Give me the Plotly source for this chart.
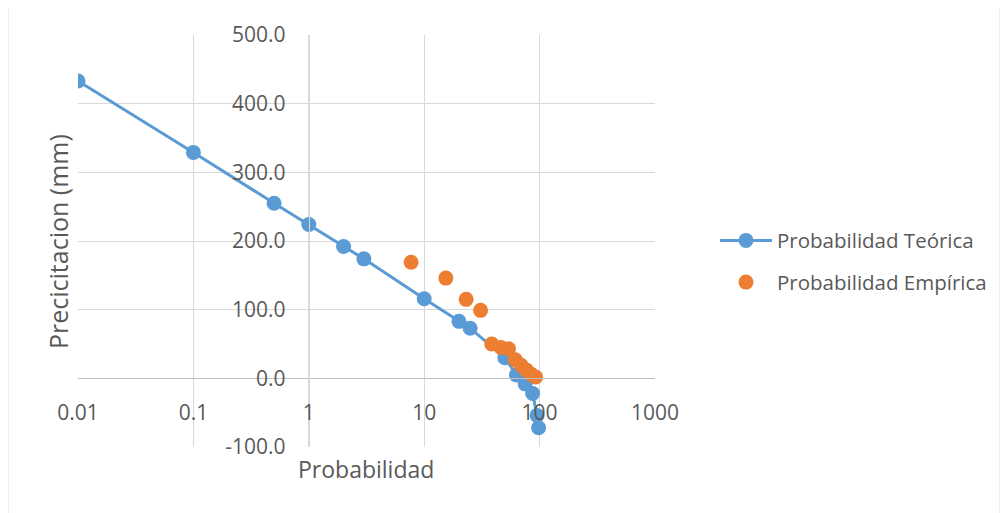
import plotly.graph_objects as go

# Probabilidad Teórica
prob_teorica = [0.01, 0.1, 0.5, 1, 2, 3, 10, 20, 25, 50, 63, 75, 87, 95, 98]
prec_teorica = [433, 329, 255, 224, 192, 174, 116, 83, 73, 30, 5, -8, -22, -54, -72]

# Probabilidad Empírica
prob_empirica = [7.7, 15.4, 23.1, 30.8, 38.5, 46.2, 53.8, 61.5, 69.2, 76.9, 84.6, 92.3]
prec_empirica = [169, 146, 115, 99, 50, 45, 43, 27, 19, 12, 6, 2]

x_tickvals = [0.01, 0.1, 1, 10, 100, 1000]
x_ticktext = ["0.01", "0.1", "1", "10", "100", "1000"]
y_tickvals = [-100, 0, 100, 200, 300, 400, 500]
y_ticktext = ["-100.0", "0.0", "100.0", "200.0", "300.0", "400.0", "500.0"]

FONT = "Open Sans"
TXT = "#595959"
GRID = "#d9d9d9"

# plot area in page pixels: x 78..655, y 35..447 (page has an 8px body margin)
PW, PH = 577, 412

fig = go.Figure()
fig.add_trace(go.Scatter(
    x=prob_teorica, y=prec_teorica, mode="lines+markers",
    name="Probabilidad Teórica", legendgroup="a",
    line=dict(color="#5B9BD5", width=3),
    marker=dict(color="#5B9BD5", size=15),
))
fig.add_trace(go.Scatter(
    x=prob_empirica, y=prec_empirica, mode="markers",
    name="Probabilidad Empírica", legendgroup="b",
    marker=dict(color="#ED7D31", size=15),
))

fig.update_layout(
    width=1000, height=505,
    margin=dict(l=70, r=353, t=27, b=66),
    paper_bgcolor="white", plot_bgcolor="white",
    font=dict(family=FONT, size=21, color=TXT),
    showlegend=True,
    legend=dict(x=1.104, y=0.45, xanchor="left", yanchor="middle",
                traceorder="grouped", tracegroupgap=12, itemwidth=52,
                font=dict(family=FONT, size=20.5, color=TXT)),
    xaxis=dict(type="log", range=[-2, 3], tickvals=x_tickvals, ticktext=x_ticktext,
               showgrid=True, gridcolor=GRID, gridwidth=1,
               anchor="free", position=1/6,
               showline=True, linecolor="#bfbfbf", linewidth=1,
               ticks="", ticklabelstandoff=15, zeroline=False,
               tickfont=dict(family=FONT, size=21, color=TXT)),
    yaxis=dict(range=[-100, 500], tickvals=y_tickvals, ticktext=y_ticktext,
               showgrid=True, gridcolor=GRID, gridwidth=1,
               anchor="free", position=0.4,
               showline=True, linecolor=GRID, linewidth=1,
               ticks="", ticklabelstandoff=19, zeroline=False,
               tickfont=dict(family=FONT, size=21, color=TXT)),
    annotations=[
        dict(text="Probabilidad", xref="paper", yref="paper",
             x=(366 - 78) / PW, y=(447 - 469) / PH, showarrow=False,
             xanchor="center", yanchor="middle",
             font=dict(family=FONT, size=23, color=TXT)),
        dict(text="Precicitacion (mm)", xref="paper", yref="paper",
             x=(58 - 78) / PW, y=(447 - 242) / PH, showarrow=False,
             textangle=-90, xanchor="center", yanchor="middle",
             font=dict(family=FONT, size=25, color=TXT)),
    ],
    shapes=[
        dict(type="rect", xref="paper", yref="paper",
             x0=(8 - 78) / PW, x1=(1000 - 78) / PW,
             y0=(447 - 530) / PH, y1=(447 - 6) / PH,
             line=dict(color="#d9d9d9", width=1), layer="below"),
    ],
)

fig.write_html("out.html")
